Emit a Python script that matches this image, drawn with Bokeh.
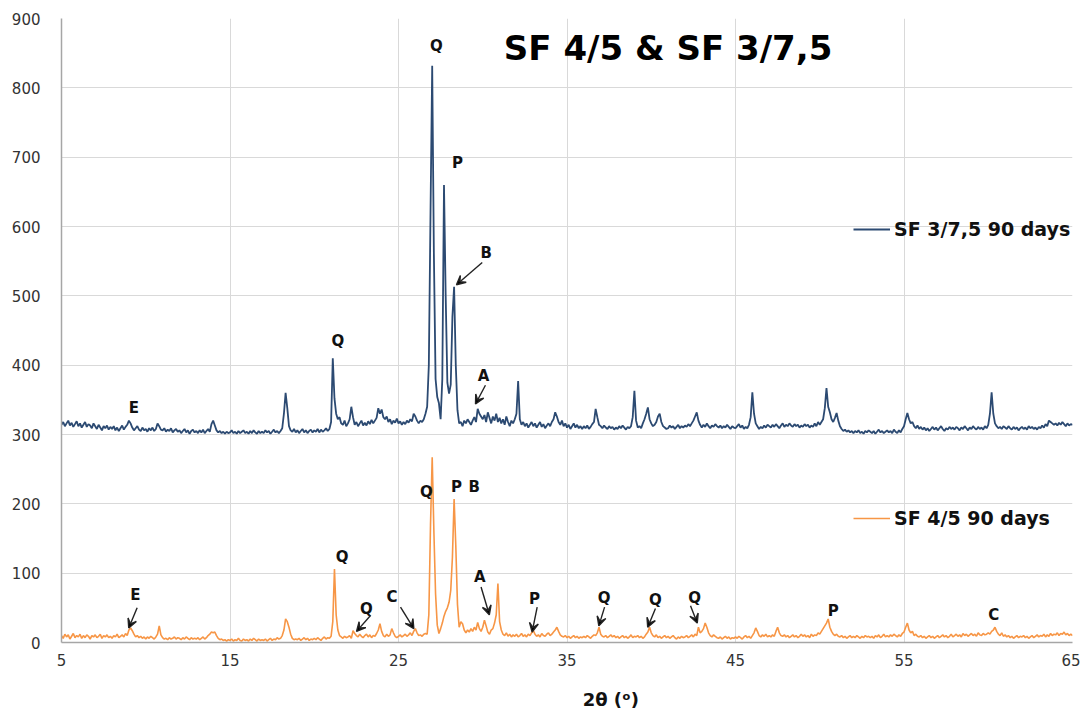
import numpy as np
from bokeh.plotting import figure
from bokeh.models import (ColumnDataSource, FixedTicker, Legend, LegendItem, Label,
                          Arrow, VeeHead, Range1d)
from bokeh.core.properties import value
from bokeh.embed import file_html
from bokeh.resources import INLINE

# 2-theta scan grid (degrees), 0.1 step from 5 to 65
two_theta = np.round(np.arange(5.0, 65.05, 0.1), 1)

# SF 3/7,5 90 days (plotted with +300 offset)
sf37_90 = [
    314, 318, 312, 316, 320, 313, 317, 311, 315, 319,
    312, 316, 310, 314, 318, 311, 315, 313, 309, 316,
    312, 308, 314, 310, 306, 312, 309, 313, 307, 311,
    308, 312, 306, 310, 305, 309, 313, 307, 311, 314,
    320, 316, 310, 306, 309, 312, 307, 305, 310, 306,
    308, 304, 309, 306, 310, 305, 308, 316, 312, 307,
    306, 309, 304, 307, 305, 309, 303, 306, 308, 304,
    306, 302, 305, 308, 303, 306, 301, 305, 307, 303,
    305, 302, 306, 303, 307, 302, 305, 308, 304, 315,
    320, 313, 306, 303, 305, 302, 304, 301, 304, 302,
    303, 306, 302, 304, 301, 305, 302, 304, 306, 302,
    304, 301, 305, 302, 306, 303, 301, 305, 302, 304,
    302, 306, 303, 305, 301, 304, 307, 303, 305, 302,
    305, 309, 330, 360, 338, 312, 306, 304, 308, 303,
    306, 302, 305, 308, 303, 306, 302, 305, 307, 303,
    306, 304, 308, 303, 307, 304, 306, 309, 305, 308,
    318, 410, 352, 330, 322, 325, 316, 314, 320, 312,
    316, 322, 340, 325, 314, 318, 312, 316, 320, 313,
    317, 313, 319, 315, 321, 316, 320, 324, 338, 330,
    336, 325, 322, 326, 318, 322, 315, 320, 317, 323,
    316, 319, 314, 318, 315, 320, 317, 322, 319, 330,
    326, 320, 316, 320, 318, 322, 330, 340, 400, 620,
    832, 560, 380, 354, 345, 322, 380, 660, 500, 375,
    359, 372, 470, 513, 400, 335, 316, 318, 312, 320,
    316, 322, 318, 314, 320, 325, 318, 337, 330, 326,
    322, 328, 318, 332, 324, 316, 326, 320, 330, 318,
    324, 316, 322, 314, 326, 318, 312, 320, 316, 322,
    330, 377, 322, 314, 318, 312, 316, 310, 314, 318,
    312, 316, 310, 314, 318, 311, 315, 309, 313, 316,
    312, 318, 322, 332, 326, 318, 314, 320, 312, 316,
    310, 314, 308, 312, 316, 310, 314, 309, 312, 308,
    312, 309, 313, 308, 311, 315, 318, 337, 325, 314,
    312, 309, 313, 310, 308, 312, 309, 311, 307, 310,
    308, 312, 309, 313, 310, 307, 311, 309, 312, 325,
    363, 320, 310, 312, 309, 316, 322, 330, 339, 322,
    316, 312, 314, 318, 326, 330, 318, 312, 310, 308,
    309, 313, 310, 312, 308, 311, 314, 309, 312, 310,
    313, 311, 315, 312, 316, 320, 326, 332, 320, 314,
    310, 314, 311, 316, 312, 309, 313, 311, 315, 312,
    310, 313, 309, 312, 310, 314, 311, 308, 312, 310,
    309, 312, 315, 310, 313, 308, 311, 309, 314, 325,
    361, 330, 316, 312, 308, 311, 309, 313, 310, 314,
    312, 310, 314, 311, 315, 312, 309, 313, 316, 311,
    314, 312, 316, 313, 311, 315, 312, 314, 310, 313,
    311, 315, 312, 314, 310, 313, 311, 316, 312, 318,
    314, 318, 322, 338, 367, 340, 332, 322, 318, 324,
    331, 320, 312, 308, 305, 307, 304, 306, 303, 305,
    302, 305, 303, 306, 302, 304, 301, 305, 303, 306,
    304, 302, 305, 301, 304, 307, 303, 305, 302, 304,
    306, 303, 305, 302, 307, 304, 302, 306, 303, 308,
    312, 322, 331, 322, 316, 318, 312, 309, 313, 308,
    311, 307, 310, 306, 309, 305, 308, 311, 307, 310,
    306, 309, 312, 308, 305, 309, 307, 311, 308, 310,
    307, 311, 309, 306, 310, 308, 312, 309, 306, 310,
    308, 312, 309, 307, 311, 308, 310, 307, 312, 309,
    314, 330, 361, 330, 316, 312, 309, 311, 308, 312,
    310, 308, 312, 309, 307, 311, 308, 310, 306, 309,
    311, 308, 310, 307, 312, 309, 311, 308, 310, 307,
    311, 309, 313, 310, 315, 312, 320, 318, 316, 314,
    316, 313, 317, 314, 318, 315, 312, 316, 313, 315,
    314,
]

# SF 4/5 90 days
sf45_90 = [
    10, 6, 12, 8, 11, 5, 9, 13, 7, 10,
    8, 12, 6, 10, 7, 11, 9, 5, 10, 8,
    11, 7, 9, 12, 6, 10, 8, 11, 7, 9,
    6, 10, 8, 12, 7, 9, 11, 8, 13, 10,
    18, 21, 17, 12, 8, 10, 7, 9, 6, 8,
    5, 8, 6, 9, 7, 5, 8, 12, 24, 11,
    7, 5, 6, 4, 7, 5, 6, 8, 5, 7,
    6, 4, 7, 5, 8, 6, 4, 7, 5, 6,
    5, 7, 4, 6, 8, 5, 7, 10, 12, 15,
    14, 15, 10, 6, 4, 5, 3, 4, 2, 4,
    3, 5, 2, 4, 3, 6, 3, 2, 5, 3,
    4, 2, 5, 3, 6, 4, 2, 5, 3, 4,
    3, 5, 2, 4, 6, 3, 5, 4, 7, 5,
    6, 10, 18, 34, 30, 22, 12, 6, 4, 5,
    4, 6, 3, 5, 7, 4, 6, 3, 5, 4,
    6, 4, 7, 5, 3, 6, 8, 5, 7, 6,
    9, 30, 106, 40, 18, 10, 8, 6, 9, 7,
    8, 10, 6, 17, 13, 10, 8, 12, 9, 7,
    10, 12, 8, 11, 7, 10, 9, 13, 18, 27,
    16, 10, 8, 12, 9, 11, 20, 14, 9, 7,
    9, 11, 8, 10, 12, 9, 11, 14, 10, 16,
    20, 14, 10, 11, 9, 12, 13, 12, 40, 170,
    267, 160, 70, 25, 13, 20, 28, 38, 45, 50,
    58, 75, 123, 207, 140, 55, 22, 30, 27, 18,
    14, 18, 15, 20, 16, 22, 18, 29, 20, 16,
    22, 32, 24, 15, 12, 18, 20, 28, 40, 85,
    30, 18, 12, 10, 14, 9, 12, 8, 11, 9,
    12, 8, 10, 13, 9, 11, 8, 12, 10, 14,
    17, 12, 9, 11, 8, 13, 10, 9, 12, 14,
    10, 12, 15, 18, 22, 16, 11, 9, 8, 10,
    7, 9, 6, 8, 10, 7, 9, 6, 8, 7,
    9, 7, 10, 8, 6, 9, 11, 10, 14, 22,
    12, 9, 8, 10, 7, 9, 11, 8, 10, 7,
    9, 6, 8, 10, 7, 9, 6, 8, 11, 7,
    9, 8, 10, 7, 9, 6, 8, 12, 15, 22,
    14, 10, 8, 11, 7, 9, 6, 8, 10, 7,
    9, 6, 8, 10, 7, 5, 8, 6, 9, 7,
    8, 10, 7, 9, 11, 8, 12, 10, 22, 14,
    16, 20, 28, 22, 14, 10, 8, 11, 9, 7,
    6, 8, 5, 7, 9, 6, 8, 5, 7, 6,
    8, 6, 9, 7, 5, 8, 10, 7, 9, 6,
    10, 14, 21, 16, 10, 8, 11, 9, 12, 8,
    10, 8, 11, 9, 16, 22, 14, 10, 9, 11,
    8, 10, 7, 9, 11, 8, 10, 7, 9, 12,
    9, 11, 8, 10, 7, 12, 9, 11, 10, 14,
    12, 16, 20, 24, 28, 34, 22, 16, 12, 10,
    12, 9, 8, 10, 7, 9, 6, 8, 10, 7,
    9, 7, 10, 8, 6, 9, 7, 10, 8, 9,
    7, 9, 6, 10, 8, 11, 7, 9, 12, 8,
    10, 8, 11, 9, 12, 10, 8, 11, 9, 13,
    15, 22, 28, 18, 14, 16, 10, 12, 9, 8,
    10, 7, 9, 6, 8, 10, 7, 9, 6, 8,
    10, 7, 9, 11, 8, 10, 7, 9, 12, 8,
    10, 12, 9, 11, 8, 13, 10, 12, 9, 11,
    13, 10, 12, 9, 14, 11, 10, 13, 11, 12,
    14, 12, 16, 18, 22, 16, 12, 10, 14, 9,
    11, 8, 10, 7, 9, 6, 8, 10, 7, 9,
    8, 10, 7, 9, 6, 8, 10, 7, 9, 11,
    8, 10, 9, 12, 8, 11, 9, 13, 10, 12,
    11, 14, 10, 13, 12, 15, 11, 13, 10, 12,
    10,
]

assert len(sf37_90) == len(two_theta) and len(sf45_90) == len(two_theta)

# Phase labels (E, Q, P, B, A, C) and their anchor positions
peak_label = ["E", "Q", "Q", "P", "B", "A",
              "E", "Q", "Q", "C", "Q", "P", "B", "A", "P", "Q", "Q", "Q", "P", "C"]
peak_label_x = [9.3, 21.4, 27.25, 28.5, 30.2, 30.05,
                9.38, 21.66, 23.1, 24.62, 26.66, 28.44, 29.5, 29.83, 33.07, 37.2, 40.25, 42.57, 50.8, 60.33]
peak_label_y = [338, 435, 861, 691, 562, 385,
                69, 124, 49, 65, 217, 225, 224, 94, 63, 64, 61, 64, 45, 39]

# Arrows pointing to peaks
arrow_x0 = [29.97, 30.16, 9.49, 23.34, 25.12, 29.9, 33.23, 37.23, 40.25, 42.33]
arrow_y0 = [548, 371, 50, 39, 51, 80, 51, 51, 49, 53]
arrow_x1 = [28.44, 29.57, 8.99, 22.51, 25.91, 30.39, 32.93, 36.89, 39.79, 42.73]
arrow_y1 = [516, 344, 21, 16, 20, 40, 15, 24, 22, 28]

x_ticks = [5, 15, 25, 35, 45, 55, 65]
y_ticks = [0, 100, 200, 300, 400, 500, 600, 700, 800, 900]

NAVY = "#2C4A72"
ORANGE = "#F79646"
FONT = "DejaVu Sans"

p = figure(width=1080, height=713, x_range=Range1d(5, 65), y_range=Range1d(0, 900),
           output_backend="svg", toolbar_location=None,
           min_border_left=61, min_border_right=8, min_border_top=18, min_border_bottom=71)
p.outline_line_color = None
p.background_fill_color = "white"

for ax in (p.xaxis, p.yaxis):
    ax.major_tick_line_color = None
    ax.minor_tick_line_color = None
    ax.major_tick_out = 0
    ax.major_tick_in = 0
    ax.axis_line_color = "#A6A6A6"
    ax.axis_line_width = 1.5
    ax.major_label_text_font = FONT
    ax.major_label_text_font_size = "15px"
    ax.major_label_text_color = "#333333"
p.xaxis.ticker = FixedTicker(ticks=x_ticks)
p.yaxis.ticker = FixedTicker(ticks=y_ticks)
p.xaxis.major_label_standoff = 11
p.yaxis.major_label_standoff = 21
p.xgrid.ticker = FixedTicker(ticks=x_ticks)
p.ygrid.ticker = FixedTicker(ticks=y_ticks)
p.grid.grid_line_color = "#D9D9D9"
p.grid.grid_line_width = 1

# x-axis title, shifted right of centre with non-breaking spaces (as in the original)
p.xaxis.axis_label = "\u00a0" * 14 + "2θ (ᵒ)"
p.xaxis.axis_label_text_font = FONT
p.xaxis.axis_label_text_font_style = "bold"
p.xaxis.axis_label_text_font_size = "18px"
p.xaxis.axis_label_text_color = "#111111"
p.xaxis.axis_label_standoff = 20

src = ColumnDataSource(dict(x=two_theta, top=sf37_90, bot=sf45_90))
r_top = p.line("x", "top", source=src, line_color=NAVY, line_width=1.8)
r_bot = p.line("x", "bot", source=src, line_color=ORANGE, line_width=1.6)

lab_src = ColumnDataSource(dict(x=peak_label_x, y=peak_label_y, t=peak_label))
p.text("x", "y", text="t", source=lab_src, text_font=value(FONT), text_font_style="bold",
       text_font_size="15px", text_align="center", text_baseline="middle", text_color="#111111")

arr_src = ColumnDataSource(dict(x0=arrow_x0, y0=arrow_y0, x1=arrow_x1, y1=arrow_y1))
p.add_layout(Arrow(x_start="x0", y_start="y0", x_end="x1", y_end="y1", source=arr_src,
                   line_color="#222222", line_width=1.4,
                   end=VeeHead(size=9, line_color="#222222", line_width=1.4)))

p.add_layout(Label(x=41.0, y=858, text="SF 4/5 & SF 3/7,5", text_font=FONT,
                   text_font_style="bold", text_font_size="34px", text_align="center",
                   text_baseline="middle", text_color="#000000"))

def make_legend(label, rend, loc):
    return Legend(items=[LegendItem(label=label, renderers=[rend])], location=loc,
                  border_line_color=None, background_fill_alpha=0, padding=0, margin=0,
                  spacing=0, glyph_width=37, glyph_height=20, label_height=20,
                  label_standoff=4, label_text_font=FONT, label_text_font_style="bold",
                  label_text_font_size="19px", label_text_color="#111111")

p.add_layout(make_legend("SF 3/7,5 90 days", r_top, (792, 402)))
p.add_layout(make_legend("SF 4/5 90 days", r_bot, (792, 113)))

open("out.html", "w").write(file_html(p, INLINE))
